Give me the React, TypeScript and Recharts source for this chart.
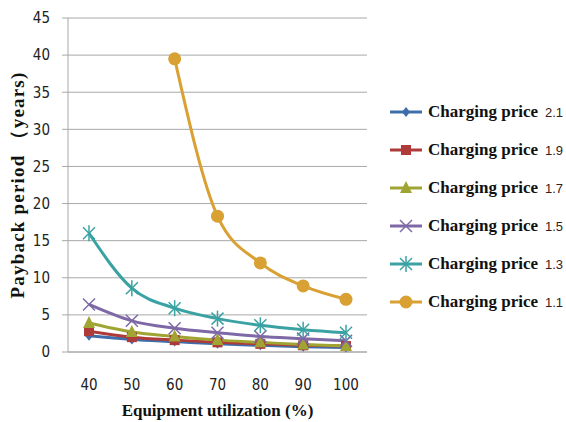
import React from "react";
import { LineChart, Line, XAxis, YAxis, CartesianGrid, Label } from "recharts";

const utilization = [40, 50, 60, 70, 80, 90, 100];
const prices = ["2.1", "1.9", "1.7", "1.5", "1.3", "1.1"];
const price21 = [2.2, 1.7, 1.4, 1.1, 0.9, 0.7, 0.6];
const price19 = [2.8, 2.0, 1.6, 1.3, 1.1, 0.9, 0.8];
const price17 = [3.9, 2.7, 2.1, 1.6, 1.3, 1.0, 0.8];
const price15 = [6.4, 4.2, 3.2, 2.6, 2.1, 1.8, 1.5];
const price13 = [16.0, 8.6, 5.9, 4.5, 3.6, 3.0, 2.6];
const price11 = [null, null, 39.5, 18.3, 12.0, 8.9, 7.1];
const yTicks = [0, 5, 10, 15, 20, 25, 30, 35, 40, 45];

const seriesValues = [price21, price19, price17, price15, price13, price11];
const colors = ["#3D6EAB", "#AE3B3A", "#A0A432", "#7E68A6", "#3AA2A2", "#D9A033"];
const shapes = ["diamond", "square", "triangle", "cross", "star", "circle"];

const data = utilization.map((u, i) => {
  const row: any = { util: u };
  seriesValues.forEach((vals, s) => {
    row["p" + s] = vals[i];
  });
  return row;
});

const Marker = ({ shape, x, y, color }: any) => {
  if (shape === "diamond")
    return <polygon points={`${x},${y - 5} ${x + 4},${y} ${x},${y + 5} ${x - 4},${y}`} fill={color} />;
  if (shape === "square")
    return <rect x={x - 5} y={y - 5} width={10} height={10} fill={color} />;
  if (shape === "triangle")
    return <polygon points={`${x},${y - 7} ${x + 6},${y + 5} ${x - 6},${y + 5}`} fill={color} />;
  if (shape === "cross")
    return (
      <g stroke={color} strokeWidth={1.5}>
        <line x1={x - 6} y1={y - 6} x2={x + 6} y2={y + 6} />
        <line x1={x - 6} y1={y + 6} x2={x + 6} y2={y - 6} />
      </g>
    );
  if (shape === "star")
    return (
      <g stroke={color} strokeWidth={1.5}>
        <line x1={x - 6} y1={y - 6} x2={x + 6} y2={y + 6} />
        <line x1={x - 6} y1={y + 6} x2={x + 6} y2={y - 6} />
        <line x1={x} y1={y - 8} x2={x} y2={y + 8} />
      </g>
    );
  return <circle cx={x} cy={y} r={6.5} fill={color} />;
};

const makeDot = (s: number) => (props: any) => {
  const { cx, cy, index } = props;
  if (cx == null || cy == null || props.value == null) return <g key={"d" + s + "-" + index} />;
  return (
    <g key={"d" + s + "-" + index}>
      <Marker shape={shapes[s]} x={cx} y={cy} color={colors[s]} />
    </g>
  );
};

const tickFont = {
  fontFamily: "'Liberation Sans Narrow', 'DejaVu Sans Condensed', sans-serif",
  fontSize: 15,
  fill: "#222",
};

// legend drawn beside the chart, same colours and markers as the lines
const SideLegend = () => (
  <div style={{ position: "absolute", left: 388, top: 93, width: 178 }}>
    {prices.map((p, s) => (
      <div key={p} style={{ display: "flex", alignItems: "center", height: 38 }}>
        <svg width={36} height={16} style={{ marginRight: 4 }}>
          <line x1={2} y1={8} x2={34} y2={8} stroke={colors[s]} strokeWidth={3} />
          <Marker shape={shapes[s]} x={18} y={8} color={colors[s]} />
        </svg>
        <span
          style={{
            fontFamily: "'Liberation Serif', 'Times New Roman', serif",
            fontWeight: "bold",
            fontSize: 17,
            color: "#111",
          }}
        >
          Charging price
        </span>
        <span
          style={{
            fontFamily: "'Liberation Sans Narrow', 'Liberation Sans', sans-serif",
            fontSize: 13,
            color: "#3a1a1a",
            marginLeft: 7,
          }}
        >
          {p}
        </span>
      </div>
    ))}
  </div>
);

export default function App() {
  return (
    <div style={{ position: "absolute", left: 0, top: 0, width: 566, height: 422, background: "#fff" }}>
      <LineChart
        width={566}
        height={422}
        data={data}
        margin={{ top: 18, right: 199, bottom: 0, left: 0 }}
      >
        <CartesianGrid horizontal vertical={false} stroke="#A8A8A8" />
        <XAxis
          dataKey="util"
          height={70}
          padding={{ left: 21, right: 21 }}
          tickLine={false}
          tickSize={0}
          tickMargin={27}
          axisLine={{ stroke: "#A8A8A8" }}
          tick={tickFont}
          interval={0}
        >
          <Label
            content={(props: any) => {
              const vb = props.viewBox;
              return (
                <text
                  x={vb.x + vb.width / 2}
                  y={vb.y + 64}
                  textAnchor="middle"
                  fontFamily="'Liberation Serif', 'Times New Roman', serif"
                  fontWeight="bold"
                  fontSize={17}
                  fill="#111"
                >
                  Equipment utilization (%)
                </text>
              );
            }}
          />
        </XAxis>
        <YAxis
          width={68}
          domain={[0, 45]}
          ticks={yTicks}
          tickSize={6}
          tickMargin={12}
          axisLine={{ stroke: "#A8A8A8" }}
          tickLine={{ stroke: "#A8A8A8" }}
          tick={tickFont}
        >
          <Label
            content={(props: any) => {
              const vb = props.viewBox;
              const cx = vb.x + 24;
              const cy = 185;
              return (
                <text
                  x={cx}
                  y={cy}
                  transform={`rotate(-90 ${cx} ${cy})`}
                  textAnchor="middle"
                  fontFamily="'Liberation Serif', 'Times New Roman', serif"
                  fontWeight="bold"
                  fontSize={19}
                  letterSpacing={1.2}
                  fill="#111"
                >
                  Payback period （years)
                </text>
              );
            }}
          />
        </YAxis>
        {prices.map((p, s) => (
          <Line
            key={p}
            type="monotone"
            dataKey={"p" + s}
            name={"Charging price " + p}
            stroke={colors[s]}
            strokeWidth={3}
            dot={makeDot(s)}
            connectNulls={false}
            isAnimationActive={false}
          />
        ))}
      </LineChart>
      <SideLegend />
    </div>
  );
}
